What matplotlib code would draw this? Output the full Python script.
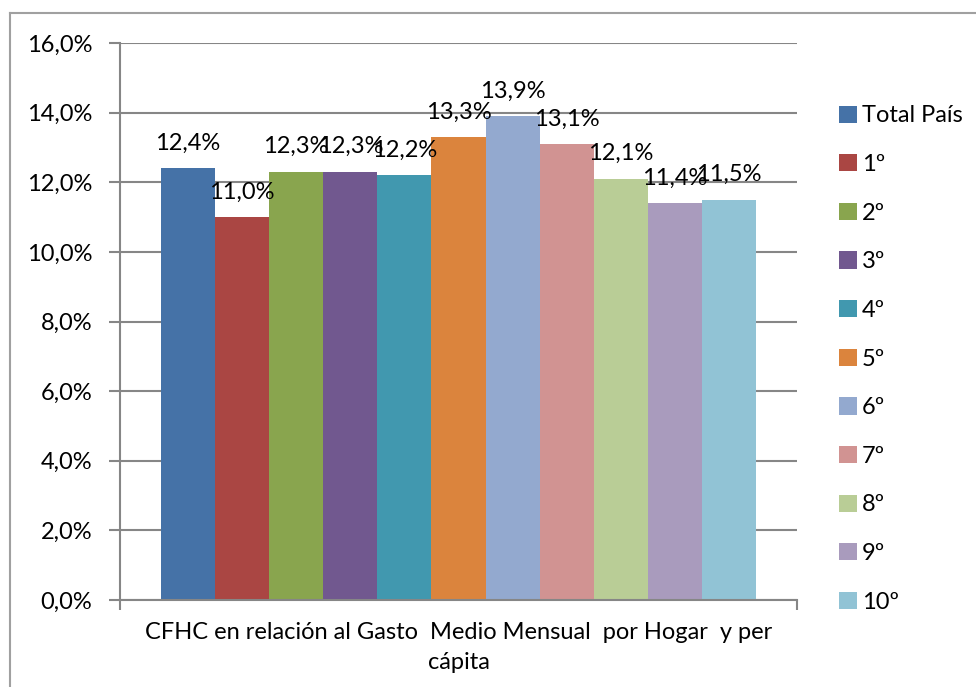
import matplotlib
matplotlib.use("Agg")
import matplotlib.pyplot as plt
from matplotlib.lines import Line2D

plt.rcParams['font.family'] = ['Lato', 'DejaVu Sans']

category = "CFHC en relación al Gasto  Medio Mensual  por Hogar  y per\ncápita"
series = ["Total País", "1º", "2º", "3º", "4º", "5º", "6º", "7º", "8º", "9º", "10º"]
values = [12.4, 11.0, 12.3, 12.3, 12.2, 13.3, 13.9, 13.1, 12.1, 11.4, 11.5]
labels = ["12,4%", "11,0%", "12,3%", "12,3%", "12,2%", "13,3%", "13,9%", "13,1%", "12,1%", "11,4%", "11,5%"]
colors = ["#4572A7", "#AA4643", "#89A54E", "#71588F", "#4198AF", "#DB843D",
          "#93A9CF", "#D19392", "#B9CD96", "#A99BBD", "#91C3D5"]
yticks = [0, 2, 4, 6, 8, 10, 12, 14, 16]
ytick_labels = ["0,0%", "2,0%", "4,0%", "6,0%", "8,0%", "10,0%", "12,0%", "14,0%", "16,0%"]

FS = 17
fig = plt.figure(figsize=(9.76, 6.87), dpi=100)
ax = fig.add_axes([120/976, 1-600/687, 677/976, 557/687])

grey = "#868686"
n = len(values)
gap = 0.0606
bw = (1 - 2*gap) / n
handles = []
for i, (v, c, lab, s) in enumerate(zip(values, colors, labels, series)):
    x = gap + bw*i + bw/2
    b = ax.bar(x, v, width=bw, color=c, label=s, zorder=3)
    handles.append(b)
    ax.annotate(lab, (x, v), xytext=(0, 18), textcoords="offset points",
                ha="center", va="center", fontsize=FS, color="black", zorder=4)

ax.set_xlim(0, 1)
ax.set_ylim(0, 16)
ax.set_yticks(yticks)
ax.set_yticklabels(ytick_labels, fontsize=FS)
ax.set_xticks([0, 1])
ax.set_xticklabels(["", ""])
ax.tick_params(axis="y", length=8, width=1.5, color=grey, pad=12)
ax.tick_params(axis="x", length=7, width=1.5, color=grey)
ax.yaxis.grid(True, color=grey, linewidth=1.5, zorder=0)
ax.set_axisbelow(True)
for sp in ["top", "right"]:
    ax.spines[sp].set_visible(False)
for sp in ["left", "bottom"]:
    ax.spines[sp].set_color(grey)
    ax.spines[sp].set_linewidth(1.5)
    ax.spines[sp].set_zorder(5)

ax.text(0.5, -0.04, category, transform=ax.transAxes, ha="center", va="top",
        fontsize=FS, linespacing=1.5)

leg = fig.legend(handles=handles, labels=series, loc="upper left",
                 bbox_to_anchor=(830/976, 1-96/687), frameon=False,
                 fontsize=FS, handlelength=0.75, handleheight=0.75,
                 handletextpad=0.2, labelspacing=1.17, borderaxespad=0)

fig.add_artist(Line2D([10/976, 10/976], [0, 1-13/687], transform=fig.transFigure,
                      color="#A0A0A0", linewidth=1.5))
fig.add_artist(Line2D([10/976, 1], [1-13/687, 1-13/687], transform=fig.transFigure,
                      color="#A0A0A0", linewidth=1.5))

fig.savefig("out.png", dpi=100)
